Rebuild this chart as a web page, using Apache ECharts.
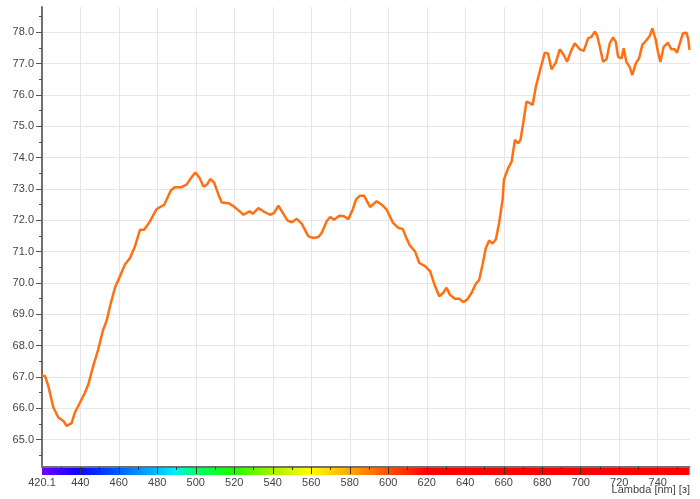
<!DOCTYPE html>
<html>
<head>
<meta charset="utf-8">
<script src="https://cdn.jsdelivr.net/npm/echarts@6/dist/echarts.min.js"></script>
<style>
  html, body { margin: 0; padding: 0; background: #fff; }
  #chart { width: 700px; height: 499px; }
</style>
</head>
<body>
<div id="chart"></div>
<script>
const lambda = [
  420.1, 421.7, 423.4, 426.0, 428.6, 431.2, 432.9, 435.5, 437.2, 439.8,
  442.4, 444.2, 446.7, 449.3, 451.9, 453.6, 455.9, 458.0, 460.6, 463.2,
  465.8, 468.4, 471.0, 473.2, 476.2, 479.6, 483.6, 487.1, 489.1, 492.6,
  495.2, 497.5, 499.8, 502.0, 504.0, 505.8, 507.5, 509.5, 511.8, 513.5,
  517.0, 519.6, 522.2, 524.8, 527.9, 529.6, 532.5, 535.1, 538.6, 540.7,
  542.9, 545.2, 547.6, 549.9, 552.5, 555.1, 558.5, 561.1, 563.7, 565.4,
  568.0, 569.8, 571.8, 574.6, 577.0, 579.2, 581.5, 583.2, 585.3, 587.4,
  590.5, 594.0, 596.6, 599.2, 602.3, 605.2, 607.5, 609.6, 611.3, 613.9,
  616.1, 619.1, 621.7, 624.2, 626.5, 628.6, 630.3, 632.0, 634.6, 636.9,
  638.9, 641.0, 643.3, 645.5, 647.2, 649.0, 650.7, 652.4, 654.2, 655.9,
  657.6, 659.4, 660.1, 662.3, 664.1, 665.8, 667.5, 668.7, 670.1, 671.8,
  673.6, 675.0, 676.7, 678.7, 681.3, 683.0, 684.8, 687.0, 689.1, 691.2,
  692.9, 695.2, 696.9, 699.5, 701.6, 703.8, 705.6, 707.3, 708.5, 709.9,
  711.6, 713.4, 715.1, 716.8, 718.2, 719.4, 721.2, 722.3, 723.7, 725.4,
  726.8, 728.6, 730.3, 732.0, 734.1, 735.8, 737.2, 739.0, 740.1, 741.4,
  743.1, 745.3, 747.1, 748.8, 750.0, 751.4, 753.1, 754.9, 755.8, 756.5
]
const values = [
  67.05, 67.03, 66.71, 66.03, 65.71, 65.60, 65.44, 65.53, 65.87, 66.18,
  66.50, 66.77, 67.35, 67.88, 68.52, 68.78, 69.37, 69.85, 70.22, 70.59,
  70.80, 71.17, 71.70, 71.70, 71.97, 72.36, 72.50, 72.96, 73.06, 73.06,
  73.14, 73.35, 73.53, 73.35, 73.08, 73.14, 73.32, 73.21, 72.82, 72.57,
  72.55, 72.45, 72.32, 72.18, 72.29, 72.21, 72.39, 72.29, 72.18, 72.24,
  72.47, 72.24, 72.00, 71.94, 72.05, 71.89, 71.49, 71.44, 71.47, 71.60,
  71.97, 72.11, 72.02, 72.15, 72.13, 72.04, 72.34, 72.66, 72.79, 72.79,
  72.43, 72.61, 72.50, 72.34, 71.94, 71.76, 71.73, 71.41, 71.19, 71.01,
  70.64, 70.54, 70.38, 69.92, 69.58, 69.69, 69.85, 69.63, 69.50, 69.50,
  69.39, 69.47, 69.69, 69.98, 70.09, 70.59, 71.12, 71.36, 71.26, 71.39,
  71.92, 72.66, 73.30, 73.67, 73.88, 74.57, 74.46, 74.57, 75.10, 75.79,
  75.74, 75.68, 76.27, 76.75, 77.35, 77.33, 76.82, 77.03, 77.46, 77.28,
  77.06, 77.44, 77.65, 77.46, 77.41, 77.81, 77.86, 78.02, 77.91, 77.54,
  77.06, 77.14, 77.65, 77.84, 77.70, 77.22, 77.17, 77.49, 77.06, 76.90,
  76.64, 77.01, 77.17, 77.60, 77.75, 77.88, 78.13, 77.75, 77.38, 77.06,
  77.54, 77.67, 77.46, 77.46, 77.35, 77.63, 77.97, 77.99, 77.80, 77.44
]

// tick labels
const xTickLabels = [420.1, 440, 460, 480, 500, 520, 540, 560, 580, 600, 620, 640, 660, 680, 700, 720, 740]
const xMajorTicks = [440, 460, 480, 500, 520, 540, 560, 580, 600, 620, 640, 660, 680, 700, 720, 740]
const xMinorTicks = [430, 450, 470, 490, 510, 530, 550, 570, 590, 610, 630, 650, 670, 690, 710, 730, 750]
const yTickLabels = [65, 66, 67, 68, 69, 70, 71, 72, 73, 74, 75, 76, 77, 78]
const yMinorTicks = [64.5, 65.5, 66.5, 67.5, 68.5, 69.5, 70.5, 71.5, 72.5, 73.5, 74.5, 75.5, 76.5, 77.5, 78.5]

// colour bar under the wavelength axis
const spectrum = [
  [420.1, '#7a00ff'], [440, '#1000ff'], [460, '#0058ff'], [480, '#00b8ff'],
  [490, '#00eeff'], [500, '#00ff70'], [520, '#18ff00'], [540, '#a8f000'],
  [560, '#ffff00'], [580, '#ffa800'], [600, '#ff5000'], [620, '#ff0000'], [756.5, '#ff0000']
]

const xMin = 420.1, xMax = 756.5
const yMin = 64.13, yMax = 78.81

const chart = echarts.init(document.getElementById('chart'))

const barGradient = new echarts.graphic.LinearGradient(0, 0, 1, 0,
  spectrum.map(s => ({ offset: (s[0] - xMin) / (xMax - xMin), color: s[1] })))

const labelFont = { fontFamily: 'Liberation Sans, Arial, sans-serif', fontSize: 11, color: '#444' }

const option = {
  animation: false,
  title: {
    text: 'Lambda [nm] [з]',
    right: 10,
    top: 484,
    padding: 0,
    textStyle: { fontFamily: 'Liberation Sans, Arial, sans-serif', fontSize: 11, fontWeight: 'normal', color: '#444' }
  },
  grid: { left: 42, right: 10.5, top: 7, bottom: 32, containLabel: false },
  xAxis: [
    {
      type: 'value',
      position: 'bottom',
      min: xMin,
      max: xMax,
      minInterval: 20,
      maxInterval: 20,
      z: 1,
      axisLine: { show: true, lineStyle: { color: '#707070', width: 2 } },
      axisTick: { show: true, customValues: xMajorTicks, length: 7, lineStyle: { color: '#333', width: 1 } },
      axisLabel: { customValues: xTickLabels, margin: 10, formatter: v => String(Math.round(v * 10) / 10), ...labelFont },
      splitLine: { show: true, lineStyle: { color: '#e6e6e6', width: 1 } }
    },
    {
      type: 'value',
      position: 'bottom',
      min: xMin,
      max: xMax,
      offset: 4,
      z: 0,
      axisLine: { show: true, lineStyle: { color: barGradient, width: 7, cap: 'butt' } },
      axisTick: { show: false },
      axisLabel: { show: false },
      splitLine: { show: false }
    },
    {
      type: 'value',
      position: 'bottom',
      min: xMin,
      max: xMax,
      z: 1,
      axisLine: { show: false },
      axisTick: { show: true, customValues: xMinorTicks, length: 3, lineStyle: { color: '#333', width: 1 } },
      axisLabel: { show: false },
      splitLine: { show: false }
    }
  ],
  yAxis: [
    {
      type: 'value',
      position: 'left',
      min: yMin,
      max: yMax,
      minInterval: 1,
      maxInterval: 1,
      axisLine: { show: true, lineStyle: { color: '#707070', width: 2 } },
      axisTick: { show: true, customValues: yTickLabels, length: 6, lineStyle: { color: '#555' } },
      axisLabel: { customValues: yTickLabels, margin: 8, formatter: v => v.toFixed(1), ...labelFont },
      splitLine: { show: true, lineStyle: { color: '#e6e6e6', width: 1 } }
    },
    {
      type: 'value',
      position: 'left',
      min: yMin,
      max: yMax,
      axisLine: { show: false },
      axisTick: { show: true, customValues: yMinorTicks, length: 3, lineStyle: { color: '#555' } },
      axisLabel: { show: false },
      splitLine: { show: false }
    }
  ],
  series: [
    {
      type: 'line',
      xAxisIndex: 0,
      yAxisIndex: 0,
      data: lambda.map((l, i) => [l, values[i]]),
      showSymbol: false,
      smooth: false,
      lineStyle: { color: '#ff7012', width: 2.5 },
      itemStyle: { color: '#ff7012' }
    }
  ]
}

chart.setOption(option)
</script>
</body>
</html>
